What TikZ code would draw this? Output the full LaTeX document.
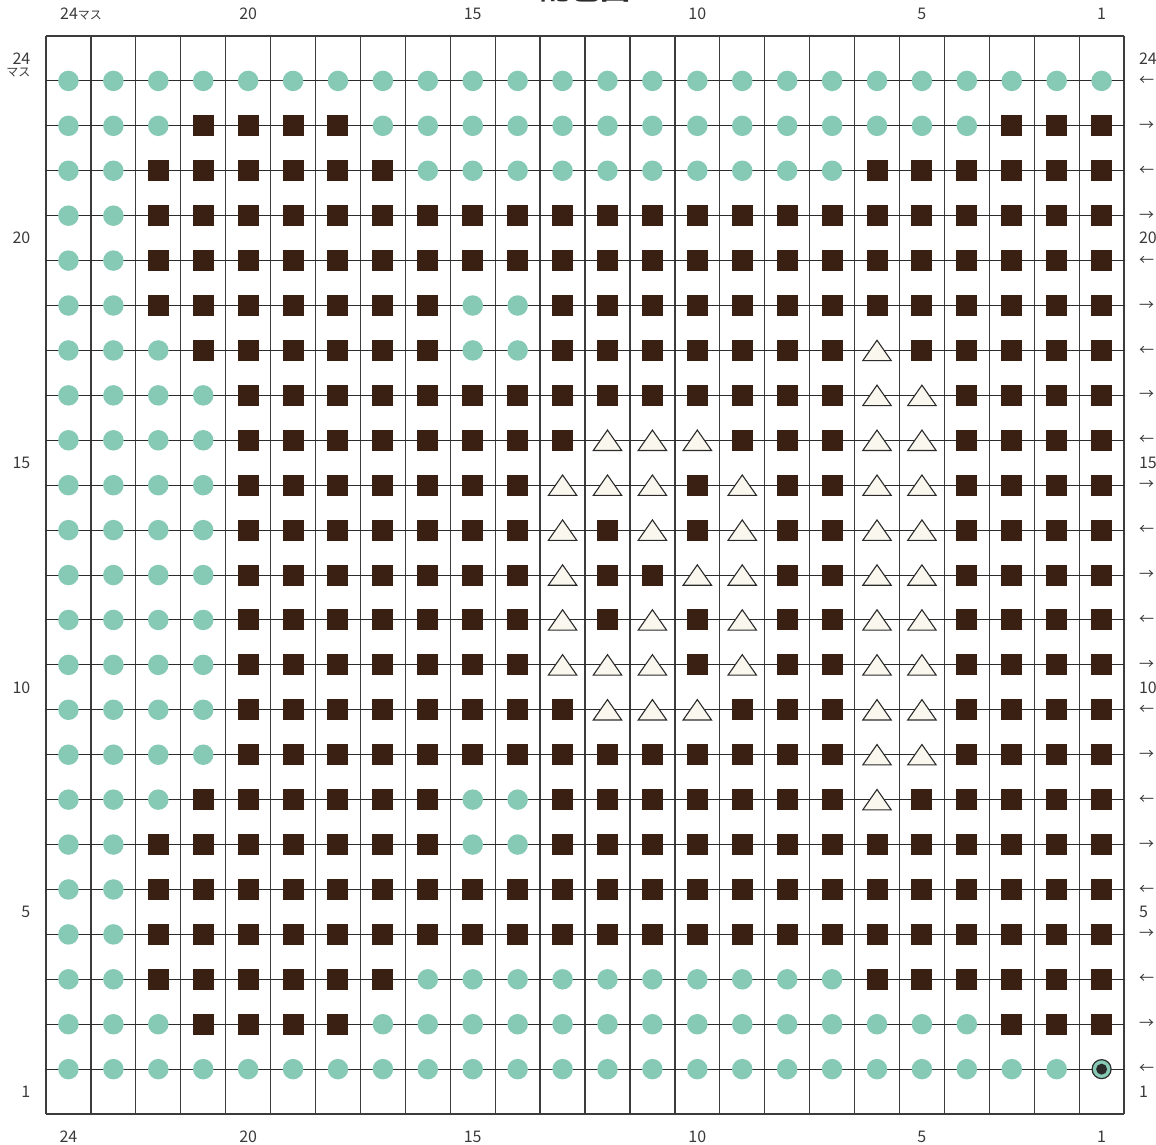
\documentclass[tikz,border=0pt]{standalone}
\usepackage{fontspec}
\setmainfont{Noto Sans CJK JP}
\usepackage{tikz}
\usetikzlibrary{calc}
\definecolor{mint}{HTML}{86CAB5}
\definecolor{cocoa}{HTML}{3A2013}
\definecolor{cream}{HTML}{FAF7EE}
\definecolor{ink}{HTML}{2B2B2B}
\definecolor{rule}{HTML}{3C3C3C}
\definecolor{numgray}{HTML}{3A3A3A}
\tikzset{
  gridline/.style={draw=rule,line width=1.3pt},
  rowline/.style ={draw=ink,line width=1pt},
  symo/.style={circle,fill=mint,inner sep=0pt,minimum size=20.5pt},
  syms/.style={rectangle,fill=cocoa,inner sep=0pt,minimum size=21pt},
  symt/.style={rectangle,inner sep=0pt,minimum width=31pt,minimum height=23pt,
               path picture={\filldraw[fill=cream,draw=ink,line width=1.1pt]
                 ($(path picture bounding box.south west)+(1.3pt,1.3pt)$) --
                 ($(path picture bounding box.south east)+(-1.3pt,1.3pt)$) --
                 ($(path picture bounding box.north)+(0pt,-1.3pt)$) -- cycle;}},
  symx/.style={circle,draw=ink,line width=1.2pt,fill=mint,inner sep=0pt,minimum size=19pt,
               path picture={\fill[ink] (path picture bounding box.center) circle (5.5pt);}},
  num/.style ={font=\fontsize{16}{16}\selectfont,text=numgray,inner sep=0pt},
  dir/.style ={font=\fontsize{15}{15}\selectfont,text=numgray,inner sep=0pt,anchor=west}
}
\begin{document}
\begin{tikzpicture}[x=44.92pt,y=-44.92pt]
  \useasboundingbox (-1.0241,-0.8014) rectangle (24.711,24.688);
  \node[font=\bfseries\fontsize{30}{30}\selectfont,text=ink,inner sep=0pt,anchor=base]
    (title) at (12,-0.815) {配色図};
  % grid
  \foreach \k in {0,...,24} \draw[gridline] (\k,0) -- (\k,24);
  \draw[gridline] (0,0) -- (24,0) (0,24) -- (24,24);
  \foreach \j in {1,...,23} \draw[rowline] (0,\j) -- (24,\j);
  % stitches, top row first (o = mint, s = cocoa, t = cream triangle, x = start)
  \foreach \pat [count=\j] in {
      {o,o,o,o,o,o,o,o,o,o,o,o,o,o,o,o,o,o,o,o,o,o,o,o},
      {o,o,o,s,s,s,s,o,o,o,o,o,o,o,o,o,o,o,o,o,o,s,s,s},
      {o,o,s,s,s,s,s,s,o,o,o,o,o,o,o,o,o,o,s,s,s,s,s,s},
      {o,o,s,s,s,s,s,s,s,s,s,s,s,s,s,s,s,s,s,s,s,s,s,s},
      {o,o,s,s,s,s,s,s,s,s,s,s,s,s,s,s,s,s,s,s,s,s,s,s},
      {o,o,s,s,s,s,s,s,s,o,o,s,s,s,s,s,s,s,s,s,s,s,s,s},
      {o,o,o,s,s,s,s,s,s,o,o,s,s,s,s,s,s,s,t,s,s,s,s,s},
      {o,o,o,o,s,s,s,s,s,s,s,s,s,s,s,s,s,s,t,t,s,s,s,s},
      {o,o,o,o,s,s,s,s,s,s,s,s,t,t,t,s,s,s,t,t,s,s,s,s},
      {o,o,o,o,s,s,s,s,s,s,s,t,t,t,s,t,s,s,t,t,s,s,s,s},
      {o,o,o,o,s,s,s,s,s,s,s,t,s,t,s,t,s,s,t,t,s,s,s,s},
      {o,o,o,o,s,s,s,s,s,s,s,t,s,s,t,t,s,s,t,t,s,s,s,s},
      {o,o,o,o,s,s,s,s,s,s,s,t,s,t,s,t,s,s,t,t,s,s,s,s},
      {o,o,o,o,s,s,s,s,s,s,s,t,t,t,s,t,s,s,t,t,s,s,s,s},
      {o,o,o,o,s,s,s,s,s,s,s,s,t,t,t,s,s,s,t,t,s,s,s,s},
      {o,o,o,o,s,s,s,s,s,s,s,s,s,s,s,s,s,s,t,t,s,s,s,s},
      {o,o,o,s,s,s,s,s,s,o,o,s,s,s,s,s,s,s,t,s,s,s,s,s},
      {o,o,s,s,s,s,s,s,s,o,o,s,s,s,s,s,s,s,s,s,s,s,s,s},
      {o,o,s,s,s,s,s,s,s,s,s,s,s,s,s,s,s,s,s,s,s,s,s,s},
      {o,o,s,s,s,s,s,s,s,s,s,s,s,s,s,s,s,s,s,s,s,s,s,s},
      {o,o,s,s,s,s,s,s,o,o,o,o,o,o,o,o,o,o,s,s,s,s,s,s},
      {o,o,o,s,s,s,s,o,o,o,o,o,o,o,o,o,o,o,o,o,o,s,s,s},
      {o,o,o,o,o,o,o,o,o,o,o,o,o,o,o,o,o,o,o,o,o,o,o,x}}{
    \foreach \c [count=\i] in \pat
      \node[sym\c] (st-\j-\i) at (\i-0.5,\j) {};
  }
  % column numbers
  \node[num,anchor=west] (top24) at (0.312,-0.5) {24{\fontsize{12}{12}\selectfont マス}};
  \foreach \n in {20,15,10,5,1} \node[num] (top\n) at (24.5-\n,-0.5) {\n};
  \foreach \n in {24,20,15,10,5,1} \node[num] (bot\n) at (24.5-\n,24.5) {\n};
  % row numbers
  \foreach \n in {24,20,15,10,5,1} \node[num,anchor=east] (left\n) at (-0.345,24.5-\n) {\n};
  \node[num,font=\fontsize{12}{12}\selectfont,anchor=east] (leftmasu) at (-0.345,0.82) {マス};
  \foreach \n in {24,20,15,10,5,1} \node[num,anchor=west] (right\n) at (24.33,24.5-\n) {\n};
  % knitting direction
  \foreach \j in {1,3,...,23} \node[dir] (dir\j) at (24.33,\j) {←};
  \foreach \j in {2,4,...,22} \node[dir] (dir\j) at (24.33,\j) {→};
\end{tikzpicture}
\end{document}
